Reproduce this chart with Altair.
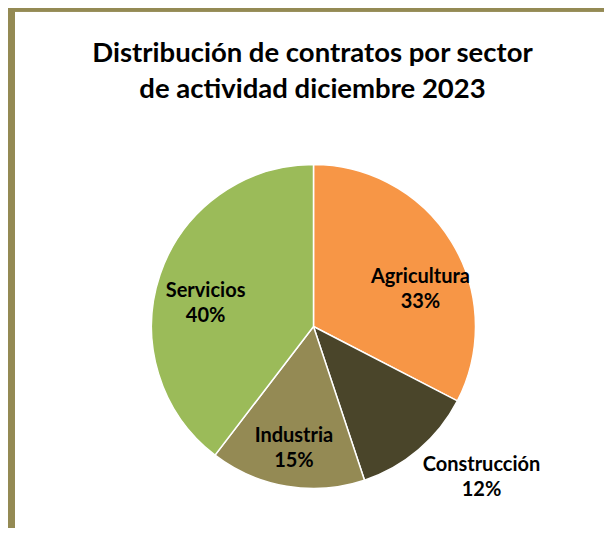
import altair as alt
import pandas as pd

sectors = ["Agricultura", "Construcción", "Industria", "Servicios"]
shares = [32.6, 12.3, 15.5, 39.6]
pct_labels = ["33%", "12%", "15%", "40%"]
colors = ["#F79646", "#4A452A", "#948A54", "#9BBB59"]
title_lines = ["Distribución de contratos por sector", "de actividad diciembre 2023"]

df = pd.DataFrame({
    "sector": sectors,
    "share": shares,
    "pct": pct_labels,
    "idx": list(range(len(sectors))),
})
df["label"] = df["sector"] + "\n" + df["pct"]

title_df = pd.DataFrame({"title": ["\n".join(title_lines)]})

W, H = 596, 520
CX, CY = 305.5, 318.5
R = 162
FONT = "Lato"
BORDER = "#948A54"

base = alt.Chart(df)

pie = base.mark_arc(outerRadius=R, stroke="white", strokeWidth=1.5).encode(
    theta=alt.Theta("share:Q", stack=True),
    color=alt.Color("sector:N", scale=alt.Scale(domain=sectors, range=colors), legend=None),
    order=alt.Order("idx:Q"),
    x=alt.value(CX),
    y=alt.value(CY),
)

offsets = {
    "Agricultura": (8.7, 10.3),
    "Construcción": (93.3, 51.1),
    "Industria": (-0.5, -3.9),
    "Servicios": (1, 1.4),
}

text_layers = []
for s in sectors:
    dx, dy = offsets[s]
    t = base.transform_window(
        cum="sum(share)", sort=[alt.SortField("idx")]
    ).transform_calculate(
        mid="datum.cum - datum.share / 2"
    ).transform_filter(
        alt.datum.sector == s
    ).mark_text(
        radius=115, font=FONT, fontSize=20, fontWeight="bold", color="black",
        lineBreak="\n", lineHeight=25, dx=dx, dy=dy, align="center", baseline="middle",
    ).encode(
        theta=alt.Theta("mid:Q", scale=alt.Scale(domain=[0, 100]), stack=None),
        text="label:N",
        x=alt.value(CX),
        y=alt.value(CY),
    )
    text_layers.append(t)

title = alt.Chart(title_df).mark_text(
    font=FONT, fontSize=27.5, fontWeight="bold", color="black",
    lineBreak="\n", lineHeight=36, align="center", baseline="middle",
).encode(text="title:N", x=alt.value(304.5), y=alt.value(46))

top_rule = base.mark_rule(color=BORDER, strokeWidth=6).encode(
    x=alt.value(0), x2=alt.value(W), y=alt.value(0.5)
)
left_rule = base.mark_rule(color=BORDER, strokeWidth=8).encode(
    x=alt.value(3), y=alt.value(0), y2=alt.value(H)
)

chart = alt.layer(pie, *text_layers, title, top_rule, left_rule).properties(
    width=W,
    height=H,
    autosize=alt.AutoSizeParams(type="none"),
    padding=0,
).configure_view(strokeWidth=0, stroke="transparent").configure(background="white")

chart.save("out.html", embed_options={"renderer": "svg", "actions": False})
